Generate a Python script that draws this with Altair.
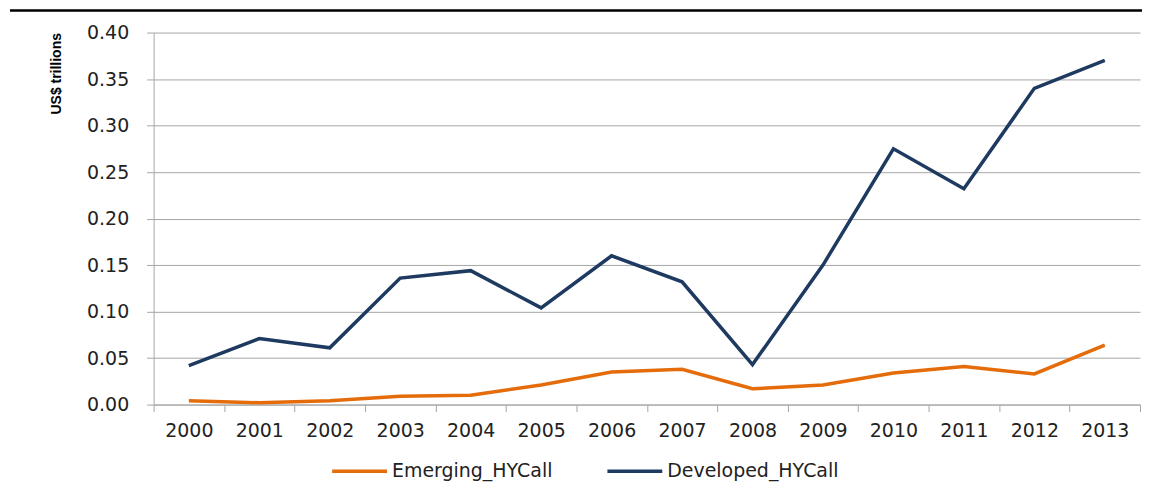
import altair as alt
import pandas as pd

years = [str(y) for y in range(2000, 2014)]
emerging = [0.004, 0.002, 0.004, 0.009, 0.010, 0.021, 0.035, 0.038, 0.017, 0.021, 0.034, 0.041, 0.033, 0.064]
developed = [0.042, 0.071, 0.061, 0.136, 0.144, 0.104, 0.160, 0.132, 0.043, 0.150, 0.275, 0.232, 0.340, 0.370]
series = ["Emerging_HYCall", "Developed_HYCall"]
colors = ["#E46C0A", "#1F3A60"]
y_ticks = [0.0, 0.05, 0.10, 0.15, 0.20, 0.25, 0.30, 0.35, 0.40]

df = pd.DataFrame({
    "Year": years + years,
    "Value": emerging + developed,
    "Series": [series[0]] * len(years) + [series[1]] * len(years),
})

FONT = "DejaVu Sans"
GRAY = "#A6A6A6"

lines = alt.Chart(df).mark_line(strokeWidth=3.5).encode(
    x=alt.X("Year:O",
            scale=alt.Scale(type="band", paddingInner=0, paddingOuter=0),
            axis=alt.Axis(title=None, labelAngle=0, tickBand="extent", grid=False,
                          domainColor=GRAY, tickColor=GRAY, tickSize=7,
                          labelFont=FONT, labelFontSize=19, labelColor="#222222",
                          labelPadding=10)),
    y=alt.Y("Value:Q",
            scale=alt.Scale(domain=[0, 0.4], nice=False),
            axis=alt.Axis(values=y_ticks, format=".2f", title="US$ trillions",
                          titleFont="Liberation Sans", titleFontSize=14,
                          titleFontWeight="bold", titleColor="#000000",
                          titleAnchor="end", titlePadding=23,
                          grid=True, gridColor=GRAY, gridWidth=1,
                          domainColor=GRAY, tickColor=GRAY, tickSize=7,
                          labelFont=FONT, labelFontSize=19, labelColor="#222222",
                          labelPadding=18)),
    color=alt.Color("Series:N",
                    scale=alt.Scale(domain=series, range=colors),
                    legend=alt.Legend(title=None, orient="none", direction="horizontal",
                                      legendX=177, legendY=410,
                                      symbolType="stroke", symbolSize=3025,
                                      symbolStrokeWidth=3.5, labelOffset=3,
                                      columnPadding=48, labelLimit=400,
                                      labelFont=FONT, labelFontSize=19,
                                      labelColor="#222222")),
)

top_rule = alt.Chart(pd.DataFrame({"k": [0]})).mark_rule(color="black", strokeWidth=2.5).encode(
    x=alt.value(-144), x2=alt.value(991), y=alt.value(-22)
)

chart = alt.layer(top_rule, lines).properties(
    width=989, height=373,
    padding={"left": 0, "top": 0, "right": 0, "bottom": 0},
).configure_view(stroke=None)

chart.save("out.html", embed_options={"renderer": "svg", "actions": False})
